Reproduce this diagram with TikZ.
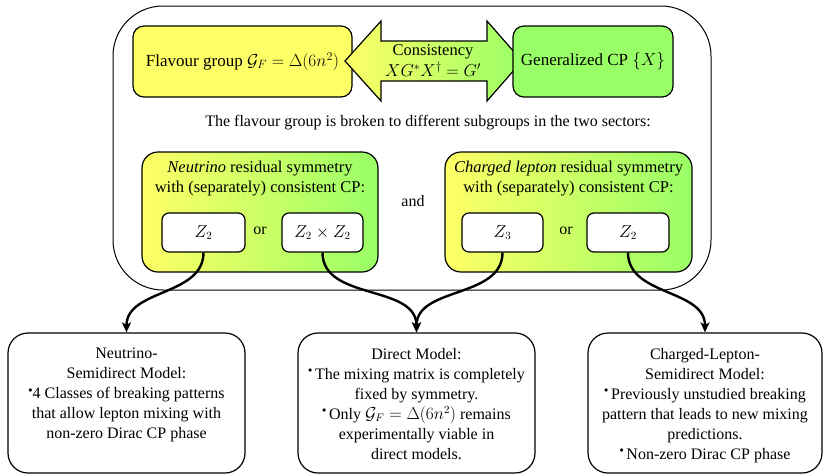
\documentclass[tikz,border=0pt]{standalone}
\usepackage[no-math]{fontspec}
\setmainfont{Liberation Serif}
\usetikzlibrary{arrows.meta,calc}
\definecolor{fyellow}{RGB}{255,255,102}
\definecolor{fgreen}{RGB}{153,255,102}
\tikzset{
  outerbox/.style={draw=black, line width=1pt, rounded corners=50pt, inner sep=0pt},
  topbox/.style={draw=black, line width=1.2pt, rounded corners=11pt, inner sep=0pt, font=\fontsize{17}{20}\selectfont},
  resbox/.style={draw=black, line width=1.2pt, rounded corners=16pt, inner sep=0pt, left color=fyellow, right color=fgreen},
  zbox/.style={draw=black, line width=1.2pt, rounded corners=7pt, fill=white, inner sep=0pt, minimum height=39pt, font=\fontsize{16}{18}\selectfont},
  modelbox/.style={draw=black, line width=1.2pt, rounded corners=20pt, inner sep=0pt, minimum height=140pt},
  plain/.style={inner sep=0pt, font=\fontsize{16}{20}\selectfont, align=center},
  conn/.style={line width=2.4pt, -{Stealth[length=10pt,width=9pt,inset=2.5pt]}},
}
\newcommand{\bul}{\raisebox{0.9ex}{$\scriptscriptstyle\bullet$}}
\begin{document}
\begin{tikzpicture}[x=1pt,y=-1pt]
\useasboundingbox (0,0) rectangle (823,475);
% outer frame
\node[outerbox, minimum width=598pt, minimum height=284pt] (outer) at (412,148) {};
% top row
\node[topbox, fill=fyellow, minimum width=219pt, minimum height=71pt] (fg) at (242.5,61.5) {Flavour group $\mathcal{G}_F=\Delta(6n^2)$};
\shade[left color=fyellow, right color=fgreen, draw=black, line width=1.2pt, line join=miter]
  (345,61) -- (381,21) -- (381,41) -- (487,41) -- (487,21) -- (522,61)
  -- (487,101) -- (487,81) -- (381,81) -- (381,101) -- cycle;
\node[plain, font=\fontsize{16.5}{16}\selectfont] (cons) at (433,52) {Consistency};
\node[plain, font=\fontsize{16.5}{16}\selectfont] (consf) at (433,69.5) {$XG^{*}X^{\dagger}=G'$};
\node[topbox, fill=fgreen, minimum width=160pt, minimum height=71pt] (gcp) at (593,61.5) {Generalized CP $\{X\}$};
% middle text
\node[plain] (broken) at (428,123) {The flavour group is broken to different subgroups in the two sectors:};
% residual boxes
\node[resbox, minimum width=236pt, minimum height=120pt] (nu) at (260,212) {};
\node[plain, anchor=north, font=\fontsize{16.5}{20}\selectfont] (nut) at (260,161) {\textit{Neutrino} residual symmetry\\with (separately) consistent CP:};
\node[zbox, minimum width=83pt] (z2a) at (203.5,232.5) {$Z_2$};
\node[plain] (or1) at (260,231) {or};
\node[zbox, minimum width=81pt] (z22) at (322.5,232.5) {$Z_2\times Z_2$};
\node[plain] (and) at (413,201) {and};
\node[resbox, minimum width=247pt, minimum height=120pt] (cl) at (568.5,212) {};
\node[plain, anchor=north, font=\fontsize{16.5}{20}\selectfont] (clt) at (568.5,161) {\textit{Charged lepton} residual symmetry\\with (separately) consistent CP:};
\node[zbox, minimum width=81pt] (z3) at (502.5,232.5) {$Z_3$};
\node[plain] (or2) at (566,231) {or};
\node[zbox, minimum width=82pt] (z2b) at (628,232.5) {$Z_2$};
% bottom boxes
\node[modelbox, minimum width=237pt] (nsd) at (126.5,403) {};
\node[plain, anchor=north] (nsdt) at (126.5,348) {Neutrino-\\Semidirect Model:\\\bul4 Classes of breaking patterns\\that allow lepton mixing with\\non-zero Dirac CP phase};
\node[modelbox, minimum width=237pt] (dm) at (416.5,403) {};
\node[plain, anchor=north] (dmt) at (416.5,348) {Direct Model:\\\bul\,The mixing matrix is completely\\fixed by symmetry.\\\bul\,Only $\mathcal{G}_F=\Delta(6n^2)$ remains\\experimentally viable in\\direct models.};
\node[modelbox, minimum width=234pt] (csd) at (705,403) {};
\node[plain, anchor=north] (csdt) at (705,348) {Charged-Lepton-\\Semidirect Model:\\\bul\,Previously unstudied breaking\\pattern that leads to new mixing\\predictions.\\\bul\,Non-zero Dirac CP phase};
% connectors
\draw[conn] (z2a.south) to[out=-90,in=90] (nsd.north);
\draw[conn] (z22.south) to[out=-90,in=90] (dm.north);
\draw[conn] (z3.south) to[out=-90,in=90] (dm.north);
\draw[conn] (z2b.south) to[out=-90,in=90] (csd.north);
\end{tikzpicture}
\end{document}
